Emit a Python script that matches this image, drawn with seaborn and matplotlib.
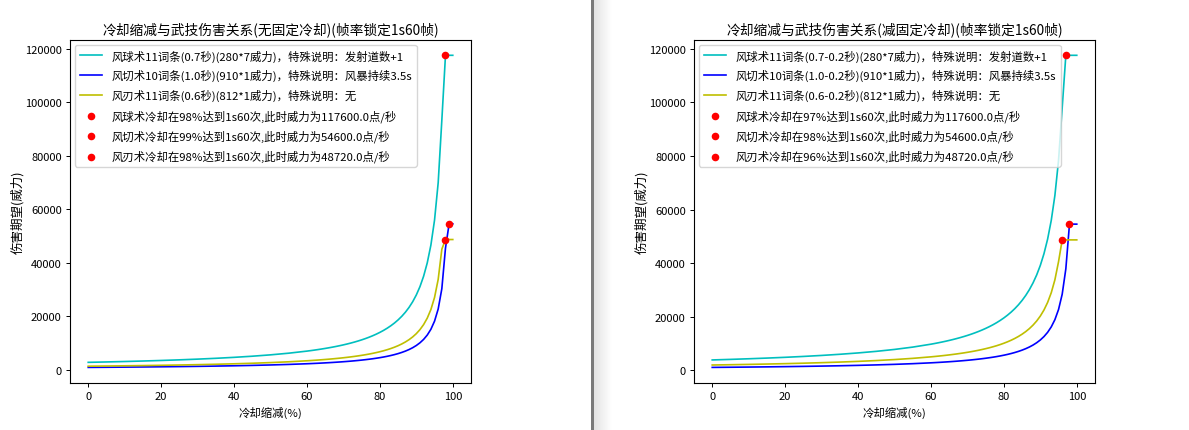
import numpy as np
import matplotlib
matplotlib.use("Agg")
import matplotlib.pyplot as plt
import seaborn as sns

# ---------------- data ----------------
cdr = [0, 5, 10, 15, 20, 25, 30, 35, 40, 45, 50, 55, 60,
       61, 62, 63, 64, 65, 66, 67, 68, 69, 70, 71, 72, 73, 74, 75, 76, 77, 78, 79, 80,
       81, 82, 83, 84, 85, 86, 87, 88, 89, 90, 91, 92, 93, 94, 95, 96, 97, 98, 99, 100]

# left panel: no fixed cooldown
ball_left = [2800, 2947, 3111, 3294, 3500, 3733, 4000, 4308, 4667, 5091, 5600, 6222, 7000,
             7179, 7368, 7568, 7778, 8000, 8235, 8485, 8750, 9032, 9333, 9655, 10000, 10370,
             10769, 11200, 11667, 12174, 12727, 13333, 14000,
             14737, 15556, 16471, 17500, 18667, 20000, 21538, 23333, 25455, 28000, 31111,
             35000, 40000, 46667, 56000, 70000, 93333, 117600, 117600, 117600]
cut_left = [910, 958, 1011, 1071, 1138, 1213, 1300, 1400, 1517, 1655, 1820, 2022, 2275,
            2333, 2395, 2459, 2528, 2600, 2676, 2758, 2844, 2935, 3033, 3138, 3250, 3370,
            3500, 3640, 3792, 3957, 4136, 4333, 4550,
            4789, 5056, 5353, 5688, 6067, 6500, 7000, 7583, 8273, 9100, 10111, 11375,
            13000, 15167, 18200, 22750, 30333, 45500, 54600, 54600]
blade_left = [1353, 1425, 1504, 1592, 1692, 1804, 1933, 2082, 2256, 2461, 2707, 3007, 3383,
              3470, 3561, 3658, 3759, 3867, 3980, 4101, 4229, 4366, 4511, 4667, 4833, 5012,
              5205, 5413, 5639, 5884, 6152, 6444, 6767,
              7123, 7519, 7961, 8458, 9022, 9667, 10410, 11278, 12303, 13533, 15037, 16917,
              19333, 22556, 27067, 33833, 45111, 48720, 48720, 48720]

# right panel: reduced fixed cooldown
ball_right = [3920, 4126, 4356, 4612, 4900, 5227, 5600, 6031, 6533, 7127, 7840, 8711, 9800,
              10051, 10316, 10595, 10889, 11200, 11529, 11879, 12250, 12645, 13067, 13517,
              14000, 14519, 15077, 15680, 16333, 17043, 17818, 18667, 19600,
              20632, 21778, 23059, 24500, 26133, 28000, 30154, 32667, 35636, 39200, 43556,
              49000, 56000, 65333, 78400, 98000, 117600, 117600, 117600, 117600]
cut_right = [1138, 1197, 1264, 1338, 1422, 1517, 1625, 1750, 1896, 2068, 2275, 2528, 2844,
             2917, 2993, 3074, 3160, 3250, 3346, 3447, 3555, 3669, 3792, 3922, 4063, 4213,
             4375, 4550, 4740, 4946, 5170, 5417, 5688,
             5987, 6319, 6691, 7109, 7583, 8125, 8750, 9479, 10341, 11375, 12639, 14219,
             16250, 18958, 22750, 28438, 37917, 54600, 54600, 54600]
blade_right = [2030, 2137, 2256, 2388, 2538, 2707, 2900, 3123, 3383, 3691, 4060, 4511, 5075,
               5205, 5342, 5486, 5639, 5800, 5971, 6152, 6344, 6548, 6767, 7000, 7250, 7519,
               7808, 8120, 8458, 8826, 9227, 9667, 10150,
               10684, 11278, 11941, 12688, 13533, 14500, 15615, 16917, 18455, 20300, 22556,
               25375, 29000, 33833, 40600, 48720, 48720, 48720, 48720, 48720]

# cap points (cdr %, damage)
cap_x_left = [98, 99, 98]
cap_x_right = [97, 98, 96]
cap_y = [117600, 54600, 48720]

titles = ["冷却缩减与武技伤害关系(无固定冷却)(帧率锁定1s60帧)",
          "冷却缩减与武技伤害关系(减固定冷却)(帧率锁定1s60帧)"]
line_labels_left = ["风球术11词条(0.7秒)(280*7威力)，特殊说明：发射道数+1",
                    "风切术10词条(1.0秒)(910*1威力)，特殊说明：风暴持续3.5s",
                    "风刃术11词条(0.6秒)(812*1威力)，特殊说明：无"]
line_labels_right = ["风球术11词条(0.7-0.2秒)(280*7威力)，特殊说明：发射道数+1",
                     "风切术10词条(1.0-0.2秒)(910*1威力)，特殊说明：风暴持续3.5s",
                     "风刃术11词条(0.6-0.2秒)(812*1威力)，特殊说明：无"]
skill_names = ["风球术", "风切术", "风刃术"]
xlabel = "冷却缩减(%)"
ylabel = "伤害期望(威力)"

# ---------------- style ----------------
plt.rcParams['font.family'] = ['Noto Sans CJK SC', 'DejaVu Sans']
plt.rcParams['font.size'] = 8
plt.rcParams['axes.unicode_minus'] = False
plt.rcParams['axes.linewidth'] = 0.8
for a in ('x', 'y'):
    plt.rcParams[f'{a}tick.major.size'] = 3.0
    plt.rcParams[f'{a}tick.major.pad'] = 3.0
    plt.rcParams[f'{a}tick.major.width'] = 0.7

fig = plt.figure(figsize=(11.89, 4.31), dpi=100)
W, H = 1189, 431
ax_l = fig.add_axes([70 / W, 1 - 384 / H, 401 / W, 343.3 / H])
ax_r = fig.add_axes([694 / W, 1 - 384 / H, 401 / W, 343.3 / H])

colors = ['c', 'b', 'y']

def draw(ax, series, labels, cap_x, title):
    for ys, lab, col in zip(series, labels, colors):
        sns.lineplot(x=cdr, y=ys, color=col, label=lab, ax=ax, linewidth=1.2)
    for name, cx, cy in zip(skill_names, cap_x, cap_y):
        sns.scatterplot(x=[cx], y=[cy], color='r', s=30, linewidth=0, ax=ax,
                        label=f"{name}冷却在{cx}%达到1s60次,此时威力为{cy:.1f}点/秒", zorder=3)
    ax.set_title(title, fontsize=9.9, pad=5)
    ax.set_xlabel(xlabel, fontsize=8.2, labelpad=3)
    ax.set_ylabel(ylabel, fontsize=9)
    ax.yaxis.set_label_coords(-0.113, 0.5)
    ax.set_xticks([0, 20, 40, 60, 80, 100])
    ax.set_yticks([0, 20000, 40000, 60000, 80000, 100000, 120000])
    ax.tick_params(labelsize=8)
    ax.legend(loc='upper left', fontsize=8.2, labelspacing=0.68, borderaxespad=0.45)

draw(ax_l, [ball_left, cut_left, blade_left], line_labels_left, cap_x_left, titles[0])
draw(ax_r, [ball_right, cut_right, blade_right], line_labels_right, cap_x_right, titles[1])

# window separator between the two screenshots
sep = fig.add_axes([591 / W, 0, 3 / W, 1])
sep.set_facecolor('#7a7a7a')
sep.set_xticks([]); sep.set_yticks([])
for s in sep.spines.values():
    s.set_visible(False)
shadow = fig.add_axes([594 / W, 0, 18 / W, 1])
grad = np.linspace(0.89, 1.0, 64).reshape(1, -1)
shadow.imshow(grad, aspect='auto', cmap='gray', vmin=0, vmax=1, extent=[0, 1, 0, 1])
shadow.axis('off')

fig.savefig("out.png", dpi=100)
